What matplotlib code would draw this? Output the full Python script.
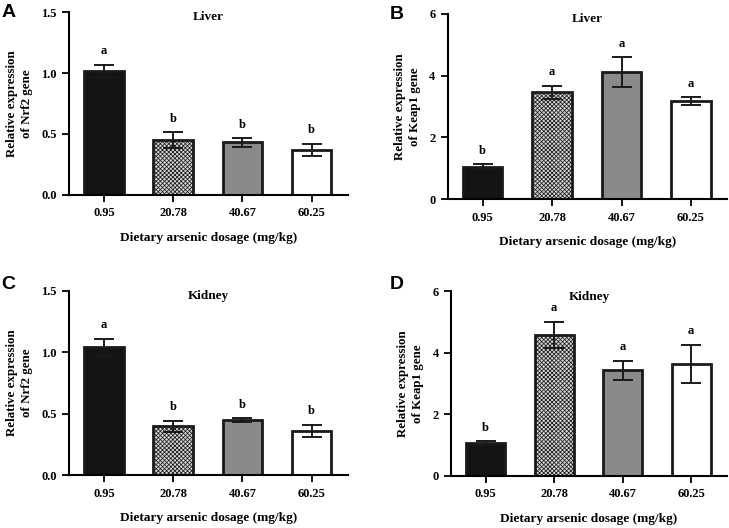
import matplotlib.pyplot as plt
import numpy as np

plt.rcParams["font.family"] = "Liberation Serif"
plt.rcParams["font.weight"] = "bold"
plt.rcParams["hatch.linewidth"] = 0.55

# data
doses = ["0.95", "20.78", "40.67", "60.25"]

liver_nrf2 = [1.02, 0.45, 0.43, 0.37]
liver_nrf2_err = [0.05, 0.065, 0.035, 0.05]
liver_nrf2_sig = ["a", "b", "b", "b"]

liver_keap1 = [1.05, 3.45, 4.12, 3.17]
liver_keap1_err = [0.07, 0.22, 0.48, 0.12]
liver_keap1_sig = ["b", "a", "a", "a"]

kidney_nrf2 = [1.04, 0.40, 0.45, 0.36]
kidney_nrf2_err = [0.07, 0.045, 0.015, 0.05]
kidney_nrf2_sig = ["a", "b", "b", "b"]

kidney_keap1 = [1.06, 4.58, 3.43, 3.65]
kidney_keap1_err = [0.07, 0.43, 0.31, 0.62]
kidney_keap1_sig = ["b", "a", "a", "a"]

fills = ["#141414", "#d8d8d8", "#8a8a8a", "white"]
hatches = [None, "x" * 8, None, None]

fig = plt.figure(figsize=(7.29, 5.28), dpi=100)


def panel(rect, letter, title, vals, errs, sig, ylim, yticks, yfmt, gene, letter_xy):
    ax = fig.add_axes(rect)
    x = np.arange(len(doses))
    for i in range(len(doses)):
        ax.bar(x[i], vals[i], width=0.57, color=fills[i], hatch=hatches[i],
               edgecolor="#1a1a1a", linewidth=2.0, zorder=2)
    ax.errorbar(x, vals, yerr=errs, fmt="none", ecolor="#1a1a1a",
                elinewidth=1.4, capsize=7, capthick=1.4, zorder=3)
    off = (ylim[1] - ylim[0]) * 0.04
    for i in range(len(doses)):
        ax.text(x[i], vals[i] + errs[i] + off, sig[i], ha="center", va="bottom",
                fontsize=9, fontweight="bold")
    ax.set_xlim(-0.5, 3.52)
    ax.set_ylim(*ylim)
    ax.set_yticks(yticks)
    ax.set_yticklabels([yfmt.format(t) for t in yticks])
    ax.set_xticks(x)
    ax.set_xticklabels(doses)
    for s in ["top", "right"]:
        ax.spines[s].set_visible(False)
    for s in ["left", "bottom"]:
        ax.spines[s].set_linewidth(1.5)
    ax.tick_params(axis="both", direction="out", length=5, width=1.3,
                   labelsize=9, pad=4)
    for lab in ax.get_xticklabels() + ax.get_yticklabels():
        lab.set_fontweight("bold")
    ax.set_title(title, fontsize=9.5, fontweight="bold", y=0.91)
    ax.set_ylabel(f"Relative expression\nof {gene} gene", fontsize=9.3,
                  fontweight="bold", linespacing=1.35, labelpad=6)
    ax.set_xlabel("Dietary arsenic dosage (mg/kg)", fontsize=9.6,
                  fontweight="bold", labelpad=9)
    fig.text(letter_xy[0], letter_xy[1], letter, fontsize=14, fontweight="bold",
             family="Liberation Sans", va="top", ha="left")
    return ax


panel([0.095, 0.631, 0.382, 0.346], "A", "Liver", liver_nrf2, liver_nrf2_err,
      liver_nrf2_sig, (0, 1.5), [0.0, 0.5, 1.0, 1.5], "{:.1f}", "Nrf2", (0.002, 0.993))
panel([0.6145, 0.623, 0.383, 0.351], "B", "Liver", liver_keap1, liver_keap1_err,
      liver_keap1_sig, (0, 6), [0, 2, 4, 6], "{:d}", "Keap1", (0.535, 0.988))
panel([0.095, 0.1, 0.382, 0.349], "C", "Kidney", kidney_nrf2, kidney_nrf2_err,
      kidney_nrf2_sig, (0, 1.5), [0.0, 0.5, 1.0, 1.5], "{:.1f}", "Nrf2", (0.002, 0.477))
panel([0.619, 0.099, 0.378, 0.349], "D", "Kidney", kidney_keap1, kidney_keap1_err,
      kidney_keap1_sig, (0, 6), [0, 2, 4, 6], "{:d}", "Keap1", (0.535, 0.477))

fig.savefig("out.png", dpi=100)
